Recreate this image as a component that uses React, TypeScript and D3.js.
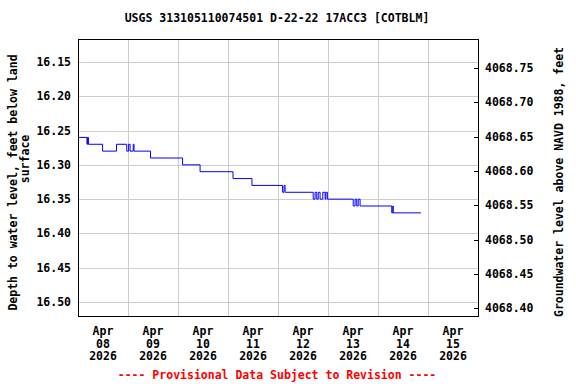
import React from "react";
import * as d3 from "d3";

const TITLE = "USGS 313105110074501 D-22-22 17ACC3 [COTBLM]";
const LEFT_TITLE_1 = "Depth to water level, feet below land";
const LEFT_TITLE_2 = "surface";
const RIGHT_TITLE = "Groundwater level above NAVD 1988, feet";
const FOOTER = "---- Provisional Data Subject to Revision ----";

const depthTicks = [16.15, 16.2, 16.25, 16.3, 16.35, 16.4, 16.45, 16.5];
const elevTicks = [4068.75, 4068.7, 4068.65, 4068.6, 4068.55, 4068.5, 4068.45, 4068.4];
const dayTicks = ["08", "09", "10", "11", "12", "13", "14", "15"];
const landSurface = 4084.909;

// hours since 2026-04-08 00:00
const hours = [0, 4.3, 4.6, 5.0, 11.8, 18.5, 23.4, 24.3, 25.0, 26.5, 26.9, 34.8, 50.2, 58.6, 74.4, 83.5,
  98.2, 98.9, 99.4, 112.9, 113.8, 114.6, 115.3, 116.2, 117.5, 118.6, 119.0, 119.7,
  132.1, 133.0, 133.8, 134.5, 135.4, 150.6, 151.1, 151.3, 164.6];
const depths = [16.26, 16.27, 16.26, 16.27, 16.28, 16.27, 16.28, 16.27, 16.28, 16.27, 16.28, 16.29, 16.30, 16.31, 16.32, 16.33,
  16.34, 16.33, 16.34, 16.35, 16.34, 16.35, 16.34, 16.35, 16.34, 16.35, 16.34, 16.35,
  16.36, 16.35, 16.36, 16.35, 16.36, 16.37, 16.36, 16.37, 16.37];

const W = 576, H = 384;
const L = 78, R = 478, T = 39, B = 316;
const FONT = "'DejaVu Sans Mono', monospace";

export default function App() {
  const t0 = Date.UTC(2026, 3, 8);
  const x = d3.scaleUtc().domain([new Date(t0), new Date(Date.UTC(2026, 3, 16))]).range([L, R]);
  const y = d3.scaleLinear().domain([16.1165, 16.5204]).range([T, B]);
  const yR = d3.scaleLinear().domain([landSurface - 16.1165, landSurface - 16.5204]).range([T, B]);

  const data = hours.map((h, i) => ({ t: new Date(t0 + h * 3600 * 1000), v: depths[i] }));
  const line = d3.line<any>().x(d => x(d.t)).y(d => y(d.v)).curve(d3.curveStepAfter);

  const days = d3.range(0, 9).map(i => new Date(t0 + i * 86400000));
  const fs = 11.5;

  return (
    <svg width={W} height={H} style={{ position: "absolute", left: 0, top: 0, background: "#fff" }}>
      <rect x={0} y={0} width={W} height={H} fill="#fff" />
      {/* grid */}
      {days.map((d, i) => (
        <line key={"vg" + i} x1={Math.round(x(d)) + 0.5} x2={Math.round(x(d)) + 0.5} y1={T} y2={B} stroke="#cccccc" strokeWidth={1} />
      ))}
      {depthTicks.map((v, i) => (
        <line key={"hg" + i} x1={L} x2={R} y1={Math.round(y(v)) + 0.5} y2={Math.round(y(v)) + 0.5} stroke="#cccccc" strokeWidth={1} />
      ))}
      {/* data */}
      <path d={line(data) || ""} fill="none" stroke="#0000ff" strokeWidth={1} />
      {/* frame */}
      <rect x={L + 0.5} y={T + 0.5} width={R - L} height={B - T} fill="none" stroke="#000" strokeWidth={1} />
      {/* right ticks */}
      {elevTicks.map((v, i) => (
        <g key={"rt" + i}>
          <line x1={R - 4} x2={R} y1={Math.round(yR(v)) + 0.5} y2={Math.round(yR(v)) + 0.5} stroke="#000" />
          <text x={R + 7} y={yR(v) + 4} fontFamily={FONT} fontWeight="bold" fontSize={fs}>{v.toFixed(2)}</text>
        </g>
      ))}
      {/* left ticks */}
      {depthTicks.map((v, i) => (
        <text key={"lt" + i} x={71} y={y(v) + 4} textAnchor="end" fontFamily={FONT} fontWeight="bold" fontSize={fs}>{v.toFixed(2)}</text>
      ))}
      {/* x labels */}
      {dayTicks.map((d, i) => {
        const cx = x(new Date(t0 + i * 86400000 + 43200000));
        return (
          <g key={"xt" + i} fontFamily={FONT} fontWeight="bold" fontSize={fs} textAnchor="middle">
            <text x={cx} y={335}>Apr</text>
            <text x={cx} y={347.5}>{d}</text>
            <text x={cx} y={360}>2026</text>
          </g>
        );
      })}
      {/* titles */}
      <text x={277} y={22} textAnchor="middle" fontFamily={FONT} fontWeight="bold" fontSize={fs}>{TITLE}</text>
      <text transform={`translate(16.5,182.5) rotate(-90)`} textAnchor="middle" fontFamily={FONT} fontWeight="bold" fontSize={fs}>{LEFT_TITLE_1}</text>
      <text transform={`translate(29,159) rotate(-90)`} textAnchor="middle" fontFamily={FONT} fontWeight="bold" fontSize={fs}>{LEFT_TITLE_2}</text>
      <text transform={`translate(562.5,182) rotate(-90)`} textAnchor="middle" fontFamily={FONT} fontWeight="bold" fontSize={fs}>{RIGHT_TITLE}</text>
      <text x={277} y={379} textAnchor="middle" fontFamily={FONT} fontWeight="bold" fontSize={fs} fill="#ff0000">{FOOTER}</text>
    </svg>
  );
}
